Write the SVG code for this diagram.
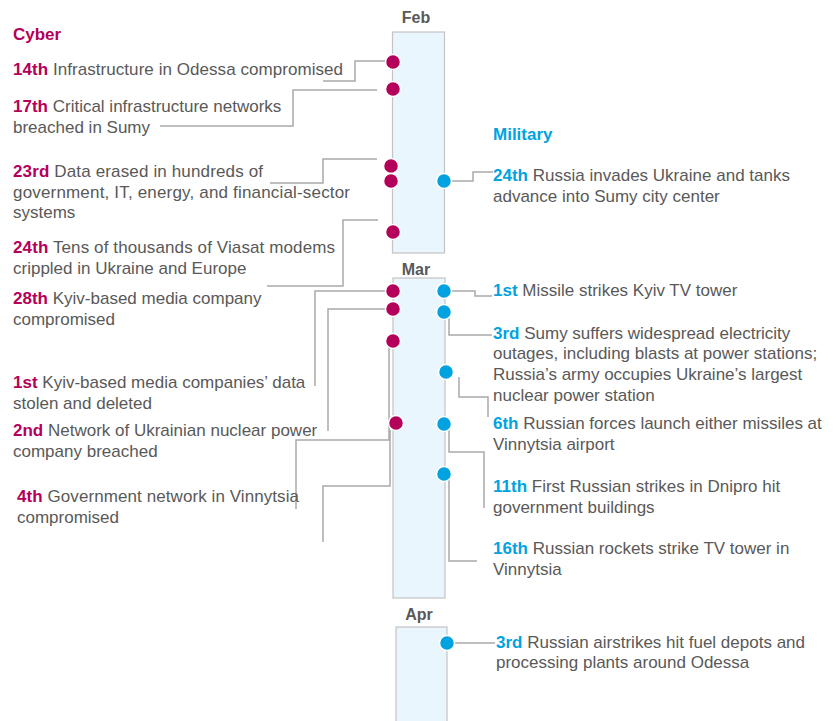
<svg xmlns="http://www.w3.org/2000/svg" width="836" height="721" viewBox="0 0 836 721">
<style>
  text { font-family: "Liberation Sans", Arial, sans-serif; font-size: 17px; fill: #595959; }
  .cy { fill: #B4005A; font-weight: bold; }
  .mi { fill: #00A3E0; font-weight: bold; }
  .mon { font-weight: bold; font-size: 16px; fill: #595959; text-anchor: middle; }
  .bar { fill: #EAF6FD; stroke: #C4C4C4; stroke-width: 1.2; }
  .dc { fill: #B4005A; stroke: #ffffff; stroke-width: 1.5; }
  .dm { fill: #00A3E0; stroke: #ffffff; stroke-width: 1.5; }
  .ln { fill: none; stroke: #A9A9A9; stroke-width: 1.5; }
</style>
<rect width="836" height="721" fill="#ffffff"/>

<g id="months">
  <g id="feb"><text class="mon" x="416" y="23">Feb</text><rect class="bar" x="392.5" y="32" width="52" height="221"/></g>
  <g id="mar"><text class="mon" x="416" y="275">Mar</text><rect class="bar" x="393" y="278" width="52" height="320"/></g>
  <g id="apr"><text class="mon" x="419" y="620">Apr</text><rect class="bar" x="396" y="627" width="51" height="100"/></g>
</g>

<g id="headers">
  <text class="cy" x="13" y="40">Cyber</text>
  <text class="mi" x="493" y="140">Military</text>
</g>

<g id="connectors">
  <path class="ln" d="M386,61 H355 V81 H323"/>
  <path class="ln" d="M377,90 H293 V126 H160"/>
  <path class="ln" d="M377,159 H323 V183 H270"/>
  <path class="ln" d="M378,220 H343 V286 H267"/>
  <path class="ln" d="M386,291 H315 V386"/>
  <path class="ln" d="M386,309 H328 V431"/>
  <path class="ln" d="M389,347 V440 H296 V509"/>
  <path class="ln" d="M390,430 V486 H323 V542"/>
  <path class="ln" d="M451,181 H473 V172 H493"/>
  <path class="ln" d="M451,291 H475 V296 H492"/>
  <path class="ln" d="M449,318 V335 H492"/>
  <path class="ln" d="M459,377 V397 H488 V417"/>
  <path class="ln" d="M449,430 V452 H484 V508"/>
  <path class="ln" d="M449,480 V561 H477"/>
  <path class="ln" d="M454,643 H495"/>
</g>

<g id="cyber-feb14"><circle class="dc" cx="393" cy="62" r="7.5"/>
  <text x="13" y="75" textLength="330"><tspan class="cy">14th</tspan> Infrastructure in Odessa compromised</text></g>
<g id="cyber-feb17"><circle class="dc" cx="393" cy="89" r="7.5"/>
  <text x="13" y="112"><tspan class="cy">17th</tspan> Critical infrastructure networks</text>
  <text x="13" y="133">breached in Sumy</text></g>
<g id="cyber-feb23"><circle class="dc" cx="391" cy="166" r="7.5"/><circle class="dc" cx="391" cy="181" r="7.5"/>
  <text x="13" y="177" textLength="250"><tspan class="cy">23rd</tspan> Data erased in hundreds of</text>
  <text x="13" y="197.5" textLength="337">government, IT, energy, and financial-sector</text>
  <text x="13" y="218">systems</text></g>
<g id="cyber-feb24"><circle class="dc" cx="393" cy="232" r="7.5"/>
  <text x="13" y="253" textLength="322"><tspan class="cy">24th</tspan> Tens of thousands of Viasat modems</text>
  <text x="13" y="273.5">crippled in Ukraine and Europe</text></g>
<g id="cyber-feb28"><circle class="dc" cx="393" cy="291" r="7.5"/>
  <text x="13" y="304"><tspan class="cy">28th</tspan> Kyiv-based media company</text>
  <text x="13" y="324.5">compromised</text></g>
<g id="cyber-mar1"><circle class="dc" cx="393" cy="309" r="7.5"/>
  <text x="13" y="388"><tspan class="cy">1st</tspan> Kyiv-based media companies’ data</text>
  <text x="13" y="408.5">stolen and deleted</text></g>
<g id="cyber-mar2"><circle class="dc" cx="393" cy="341" r="7.5"/>
  <text x="13" y="436"><tspan class="cy">2nd</tspan> Network of Ukrainian nuclear power</text>
  <text x="13" y="456.5">company breached</text></g>
<g id="cyber-mar4"><circle class="dc" cx="396" cy="423" r="7.5"/>
  <text x="17" y="502" textLength="282"><tspan class="cy">4th</tspan> Government network in Vinnytsia</text>
  <text x="17" y="522.5">compromised</text></g>

<g id="mil-feb24"><circle class="dm" cx="444" cy="181" r="7.5"/>
  <text x="493" y="181" textLength="297"><tspan class="mi">24th</tspan> Russia invades Ukraine and tanks</text>
  <text x="493" y="201.5">advance into Sumy city center</text></g>
<g id="mil-mar1"><circle class="dm" cx="444" cy="291" r="7.5"/>
  <text x="493" y="296"><tspan class="mi">1st</tspan> Missile strikes Kyiv TV tower</text></g>
<g id="mil-mar3"><circle class="dm" cx="444" cy="312" r="7.5"/>
  <text x="493" y="338.5"><tspan class="mi">3rd</tspan> Sumy suffers widespread electricity</text>
  <text x="493" y="359">outages, including blasts at power stations;</text>
  <text x="493" y="380">Russia’s army occupies Ukraine’s largest</text>
  <text x="493" y="400.5">nuclear power station</text></g>
<g id="mil-mar6"><circle class="dm" cx="446" cy="372" r="7.5"/>
  <text x="493" y="429"><tspan class="mi">6th</tspan> Russian forces launch either missiles at</text>
  <text x="493" y="449.5">Vinnytsia airport</text></g>
<g id="mil-mar11"><circle class="dm" cx="444" cy="424" r="7.5"/>
  <text x="493" y="492"><tspan class="mi">11th</tspan> First Russian strikes in Dnipro hit</text>
  <text x="493" y="512.5">government buildings</text></g>
<g id="mil-mar16"><circle class="dm" cx="444" cy="474" r="7.5"/>
  <text x="493" y="554"><tspan class="mi">16th</tspan> Russian rockets strike TV tower in</text>
  <text x="493" y="574.5">Vinnytsia</text></g>
<g id="mil-apr3"><circle class="dm" cx="447" cy="643" r="7.5"/>
  <text x="496" y="647.5"><tspan class="mi">3rd</tspan> Russian airstrikes hit fuel depots and</text>
  <text x="496" y="668">processing plants around Odessa</text></g>
</svg>
